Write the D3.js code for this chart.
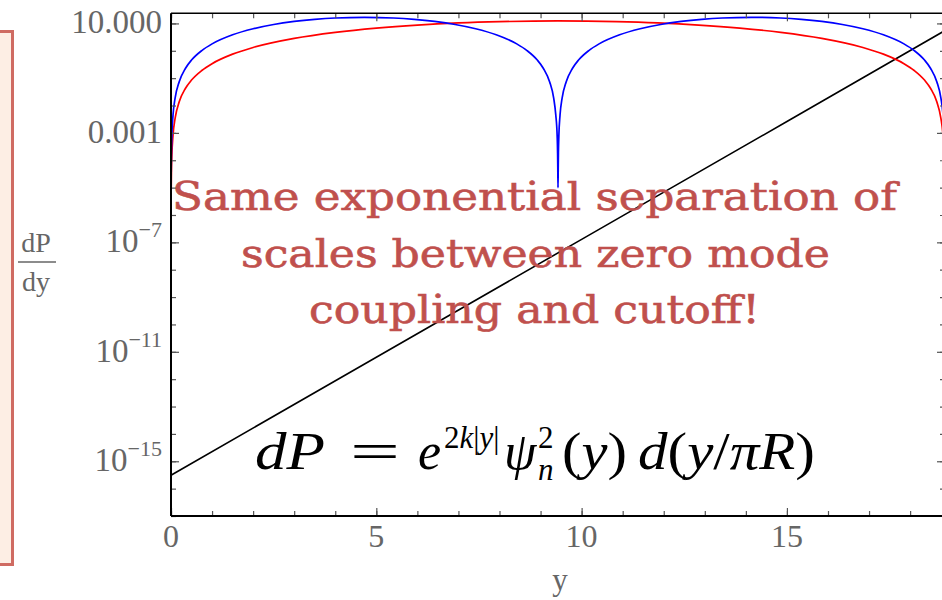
<!DOCTYPE html>
<html>
<head>
<meta charset="utf-8">
<script src="https://cdn.jsdelivr.net/npm/d3@7"></script>
<style>
  body { margin: 0; background: #fff; }
  svg { display: block; }
</style>
</head>
<body>
<svg id="chart" width="942" height="600"></svg>
<script>
// Position along the bulk (y) and probability density dP/dy for each mode
const blueY = [0.0025, 0.005, 0.01, 0.02, 0.05, 0.1, 0.2, 0.35, 0.5, 0.75, 1, 1.5, 2, 2.5, 3, 3.5, 4, 4.71,
  5.42, 5.92, 6.42, 6.92, 7.42, 7.92, 8.42, 8.67, 8.92, 9.07, 9.22, 9.32, 9.37, 9.405, 9.415, 9.42, 9.4248,
  9.43, 9.435, 9.445, 9.475, 9.525, 9.625, 9.775, 9.925, 10.175, 10.425, 10.925, 11.425, 11.925, 12.425,
  12.925, 13.425, 14.14, 14.85, 15.35, 15.85, 16.35, 16.85, 17.35, 17.85, 18.1, 18.35, 18.5, 18.65, 18.75,
  18.8, 18.83, 18.84, 18.847];
const blueP = [1.2e-5, 4.6e-5, 1.86e-4, 7.4e-4, 4.64e-3, 0.0186, 0.0741, 0.226, 0.46, 1.02, 1.79, 3.84, 6.39, 9.15, 11.8, 14.1, 15.8, 16.7,
  15.8, 14.1, 11.8, 9.15, 6.39, 3.84, 1.79, 1.02, 0.46, 0.226, 0.0741, 0.0186, 4.64e-3, 7.4e-4, 1.86e-4, 4.6e-5, 1.0e-5,
  4.6e-5, 1.86e-4, 7.4e-4, 4.64e-3, 0.0186, 0.0741, 0.226, 0.46, 1.02, 1.79, 3.84, 6.39, 9.15, 11.8,
  14.1, 15.8, 16.7, 15.8, 14.1, 11.8, 9.15, 6.39, 3.84, 1.79, 1.02, 0.46, 0.226, 0.0741, 0.0186,
  4.64e-3, 7.4e-4, 1.86e-4, 1.2e-5];

const redY = [0.005, 0.01, 0.02, 0.05, 0.1, 0.2, 0.35, 0.5, 0.75, 1, 1.5, 2, 3, 4, 5, 6, 7, 8, 9.42,
  10.85, 11.85, 12.85, 13.85, 14.85, 15.85, 16.85, 17.35, 17.85, 18.1, 18.35, 18.5, 18.65, 18.75, 18.8, 18.83, 18.84, 18.845];
const redP = [8.5e-6, 3.4e-5, 1.37e-4, 8.5e-4, 3.42e-3, 0.0137, 0.0418, 0.0852, 0.191, 0.339, 0.753, 1.32, 2.83, 4.70, 6.74, 8.71, 10.4, 11.6, 12.3,
  11.6, 10.4, 8.71, 6.74, 4.70, 2.83, 1.32, 0.753, 0.339, 0.191, 0.0852, 0.0418, 0.0137, 3.42e-3, 8.5e-4, 1.37e-4, 3.4e-5, 8.5e-6];

// Warp factor e^{2k|y|}
const warpY = [0, 5, 10, 15, 18.85];
const warpP = [3.1e-16, 6.3e-12, 1.29e-7, 2.6e-3, 5.5];

// Axis ticks
const xMajorTicks = [0, 5, 10, 15];
const xMinorTicks = d3.range(0, 19);
const yLabelExps = [1, -3, -7, -11, -15];
const yLabelText = ["10.000", "0.001", "10|−7", "10|−11", "10|−15"];
const yDecadeExps = d3.range(-17, 2);

const svg = d3.select("#chart");
const plotLeft = 171, plotRight = 945, plotTop = 13.3, plotBottom = 516;

const x = d3.scaleLinear().domain([0, 6 * Math.PI]).range([plotLeft, plotRight]);
const y = d3.scaleLog().domain([1e-17, Math.pow(10, 1.37)]).range([plotBottom, plotTop]);

// Side panel box
svg.append("rect")
  .attr("x", -20).attr("y", 31.5).attr("width", 32.5).attr("height", 533)
  .attr("fill", "#fdeee4").attr("stroke", "#cf6b62").attr("stroke-width", 3);

// Clip region for the plot area
svg.append("clipPath").attr("id", "plotclip")
  .append("rect").attr("x", plotLeft).attr("y", plotTop)
  .attr("width", plotRight - plotLeft).attr("height", plotBottom - plotTop);

const plot = svg.append("g").attr("clip-path", "url(#plotclip)");

const curve = d3.line().x(d => x(d[0])).y(d => y(d[1])).curve(d3.curveMonotoneX);

plot.append("path").datum(d3.zip(warpY, warpP))
  .attr("d", d3.line().x(d => x(d[0])).y(d => y(d[1])))
  .attr("fill", "none").attr("stroke", "#000").attr("stroke-width", 1.6);
plot.append("path").datum(d3.zip(redY, redP))
  .attr("d", curve).attr("fill", "none").attr("stroke", "#ff0000").attr("stroke-width", 1.7);
plot.append("path").datum(d3.zip(blueY, blueP))
  .attr("d", curve).attr("fill", "none").attr("stroke", "#0000ff").attr("stroke-width", 1.7);

// Frame ticks (inward)
const tickColor = "#555";
function styleAxis(g) {
  g.select(".domain").remove();
  g.selectAll(".tick line").attr("stroke", tickColor).attr("stroke-width", 1.2);
  g.selectAll(".tick text").remove();
}
const decades = yDecadeExps.map(e => Math.pow(10, e));
const labelled = yLabelExps.map(e => Math.pow(10, e));
svg.append("g").attr("transform", `translate(${plotLeft},0)`)
  .call(d3.axisLeft(y).tickValues(decades).tickSize(-5)).call(styleAxis);
svg.append("g").attr("transform", `translate(${plotLeft},0)`)
  .call(d3.axisLeft(y).tickValues(labelled).tickSize(-8)).call(styleAxis);
svg.append("g").attr("transform", `translate(${plotRight},0)`)
  .call(d3.axisRight(y).tickValues(decades).tickSize(-5)).call(styleAxis);
svg.append("g").attr("transform", `translate(${plotRight},0)`)
  .call(d3.axisRight(y).tickValues(labelled).tickSize(-8)).call(styleAxis);
svg.append("g").attr("transform", `translate(0,${plotBottom})`)
  .call(d3.axisBottom(x).tickValues(xMinorTicks).tickSize(-5)).call(styleAxis);
svg.append("g").attr("transform", `translate(0,${plotBottom})`)
  .call(d3.axisBottom(x).tickValues(xMajorTicks).tickSize(-8)).call(styleAxis);
svg.append("g").attr("transform", `translate(0,${plotTop})`)
  .call(d3.axisTop(x).tickValues(xMinorTicks).tickSize(-5)).call(styleAxis);
svg.append("g").attr("transform", `translate(0,${plotTop})`)
  .call(d3.axisTop(x).tickValues(xMajorTicks).tickSize(-8)).call(styleAxis);

// Frame lines
svg.append("line").attr("x1", plotLeft).attr("x2", plotRight).attr("y1", plotTop).attr("y2", plotTop)
  .attr("stroke", "#000").attr("stroke-width", 1.6);
svg.append("line").attr("x1", plotLeft).attr("x2", plotRight).attr("y1", plotBottom).attr("y2", plotBottom)
  .attr("stroke", "#000").attr("stroke-width", 2);
svg.append("line").attr("x1", plotLeft).attr("x2", plotLeft).attr("y1", plotTop).attr("y2", plotBottom)
  .attr("stroke", "#000").attr("stroke-width", 2);
svg.append("line").attr("x1", plotRight).attr("x2", plotRight).attr("y1", plotTop).attr("y2", plotBottom)
  .attr("stroke", "#000").attr("stroke-width", 1.6);

const labelFont = "'Liberation Serif', 'Times New Roman', serif";
const labelColor = "#666";

// Y tick labels
yLabelExps.forEach((e, i) => {
  const t = svg.append("text")
    .attr("x", plotLeft - 9).attr("y", y(Math.pow(10, e)) + 10)
    .attr("text-anchor", "end")
    .attr("font-family", labelFont).attr("font-size", 33).attr("fill", labelColor);
  const parts = yLabelText[i].split("|");
  t.append("tspan").text(parts[0]);
  if (parts.length > 1) {
    t.append("tspan").attr("font-size", 22).attr("dy", -15).text(parts[1]);
  }
});

// X tick labels
xMajorTicks.forEach(v => {
  svg.append("text")
    .attr("x", x(v)).attr("y", 547)
    .attr("text-anchor", "middle")
    .attr("font-family", labelFont).attr("font-size", 32).attr("fill", labelColor)
    .text(v);
});

// Axis titles
svg.append("text").attr("x", 560).attr("y", 590).attr("text-anchor", "middle")
  .attr("font-family", labelFont).attr("font-size", 31).attr("fill", labelColor).text("y");
svg.append("text").attr("x", 36).attr("y", 252).attr("text-anchor", "middle")
  .attr("font-family", labelFont).attr("font-size", 28).attr("fill", labelColor).text("dP");
svg.append("line").attr("x1", 18).attr("x2", 56).attr("y1", 262).attr("y2", 262)
  .attr("stroke", labelColor).attr("stroke-width", 1.5);
svg.append("text").attr("x", 36).attr("y", 291).attr("text-anchor", "middle")
  .attr("font-family", labelFont).attr("font-size", 28).attr("fill", labelColor).text("dy");

// Annotation
const noteLines = ["Same exponential separation of", "scales between zero mode", "coupling and cutoff!"];
const noteBase = [210, 267, 323];
const noteSpan = [[172, 897], [241, 830], [309, 760]];
noteLines.forEach((s, i) => {
  svg.append("text")
    .attr("x", noteSpan[i][0]).attr("y", noteBase[i])
    .attr("textLength", noteSpan[i][1] - noteSpan[i][0]).attr("lengthAdjust", "spacingAndGlyphs")
    .attr("font-family", "'DejaVu Serif', serif").attr("font-size", 39)
    .attr("fill", "#c0504d").attr("stroke", "#c0504d").attr("stroke-width", 0.6)
    .text(s);
});

// Formula dP = e^{2k|y|} psi_n^2(y) d(y/piR), set piece by piece
const eqFont = "'Liberation Serif', 'Times New Roman', serif";
const eqBase = 469, eqSize = 52, eqSub = 31;
function eqText(px, py, size, len) {
  const t = svg.append("text").attr("x", px).attr("y", py)
    .attr("font-family", eqFont).attr("font-size", size).attr("fill", "#000");
  if (len) t.attr("textLength", len).attr("lengthAdjust", "spacingAndGlyphs");
  return t;
}
function piece(t, s, italic) {
  const sp = t.append("tspan").text(s);
  if (italic) sp.attr("font-style", "italic");
  return sp;
}
let t;
t = eqText(255, eqBase, eqSize, 70); piece(t, "dP", true);
t = eqText(350, eqBase, eqSize, 50); piece(t, "=", false);
t = eqText(418, eqBase, eqSize); piece(t, "e", true);
t = eqText(444, eqBase - 21, eqSub);
piece(t, "2", false); piece(t, "k", true); piece(t, "|", false); piece(t, "y", true); piece(t, "|", false);
t = eqText(504, eqBase, eqSize); piece(t, "ψ", true);
// stacked superscript and subscript on psi
t = eqText(538, eqBase - 21, eqSub); piece(t, "2", false);
t.append("tspan").attr("x", 538).attr("y", eqBase + 11).attr("font-style", "italic").text("n");
t = eqText(562, eqBase, eqSize, 65); piece(t, "(", false); piece(t, "y", true); piece(t, ")", false);
t = eqText(638, eqBase, eqSize, 177);
piece(t, "d", true); piece(t, "(", false); piece(t, "y", true); piece(t, "/", false);
piece(t, "πR", true); piece(t, ")", false);
</script>
</body>
</html>
